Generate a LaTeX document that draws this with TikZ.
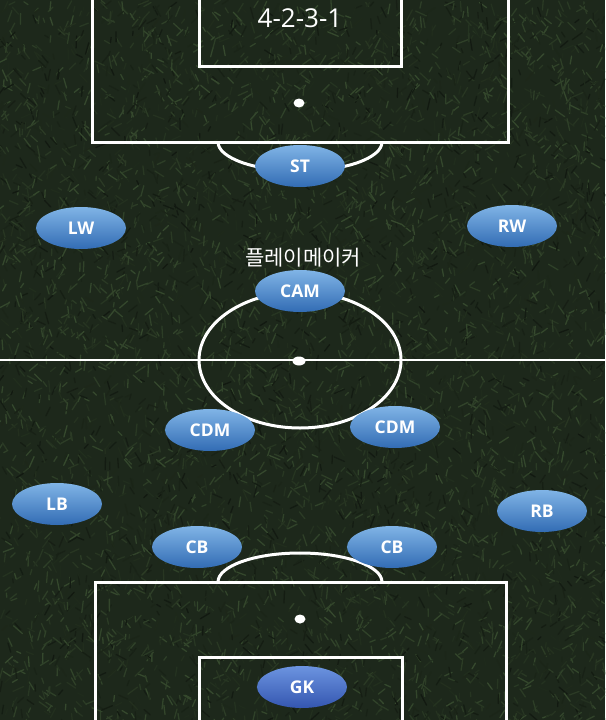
\documentclass[tikz,border=0pt]{standalone}
\usepackage{fontspec}
\setmainfont{Open Sans}
\newfontfamily\krfont{Noto Sans CJK KR}
\usetikzlibrary{shapes.geometric}
\definecolor{turf}{RGB}{29,40,27}
\definecolor{grassA}{RGB}{54,74,46}
\definecolor{grassB}{RGB}{18,25,17}
\definecolor{posTop}{RGB}{128,180,230}
\definecolor{posBot}{RGB}{50,108,180}
\definecolor{gkTop}{RGB}{108,148,224}
\definecolor{gkBot}{RGB}{52,86,176}
\tikzset{
  pitchline/.style={white, line width=3pt},
  player/.style={ellipse, minimum width=90pt, minimum height=42pt, inner sep=0pt,
    top color=posTop, bottom color=posBot, text=white,
    font=\bfseries\fontsize{17.5}{17.5}\selectfont},
  keeper/.style={player, top color=gkTop, bottom color=gkBot},
  spot/.style={white},
}
\begin{document}
\begin{tikzpicture}[x=1pt,y=-1pt]
\useasboundingbox (0,0) rectangle (605,720);
\fill[turf] (0,0) rectangle (605,720);
% grass texture
\begin{scope}
\clip (0,0) rectangle (605,720);
\pgfmathsetseed{17}
\foreach \i in {1,...,6500}{
  \pgfmathsetmacro\gx{rnd*605}
  \pgfmathsetmacro\gy{rnd*720}
  \pgfmathsetmacro\ga{20+rnd*140}
  \pgfmathsetmacro\gl{4+rnd*8}
  \pgfmathtruncatemacro\gc{rnd*100}
  \draw[grassA!\gc!grassB, line width=1.3pt, line cap=round] (\gx,\gy) -- ++(\ga:\gl);
}
\end{scope}
% top half markings
\draw[pitchline] (92,-5) -- (92,142) -- (508,142) -- (508,-5);
\draw[pitchline] (199,-5) -- (199,66) -- (401,66) -- (401,-5);
\fill[spot] (299,103) ellipse (5.5 and 4.5);
\begin{scope}
\clip (0,143) rectangle (605,300);
\draw[pitchline] (300,142) ellipse (82 and 29);
\end{scope}
% centre
\draw[white, line width=2.5pt] (0,360) -- (605,360);
\draw[pitchline] (300,360) ellipse (101 and 68);
\fill[spot] (299,361) ellipse (6.5 and 4.5);
% bottom half markings
\draw[pitchline] (95,725) -- (95,582) -- (506,582) -- (506,725);
\draw[pitchline] (199,725) -- (199,657) -- (402,657) -- (402,725);
\fill[spot] (300,619) ellipse (5.5 and 4.5);
\begin{scope}
\clip (0,400) rectangle (605,581);
\draw[pitchline] (300,582) ellipse (82 and 29);
\end{scope}
% texts
\node[text=white, font=\fontsize{26}{26}\selectfont] (title) at (300,18) {4-2-3-1};
\node[text=white, font=\krfont\fontsize{21}{21}\selectfont] (role) at (303,258) {플레이메이커};
% players
\node[player] (st) at (300,166) {ST};
\node[player] (lw) at (81,228) {LW};
\node[player] (rw) at (512,226) {RW};
\node[player] (cam) at (300,291) {CAM};
\node[player] (cdml) at (210,430) {CDM};
\node[player] (cdmr) at (395,427) {CDM};
\node[player] (lb) at (57,504) {LB};
\node[player] (rb) at (542,511) {RB};
\node[player] (cbl) at (197,547) {CB};
\node[player] (cbr) at (392,547) {CB};
\node[keeper] (gk) at (302,687) {GK};
\end{tikzpicture}
\end{document}
